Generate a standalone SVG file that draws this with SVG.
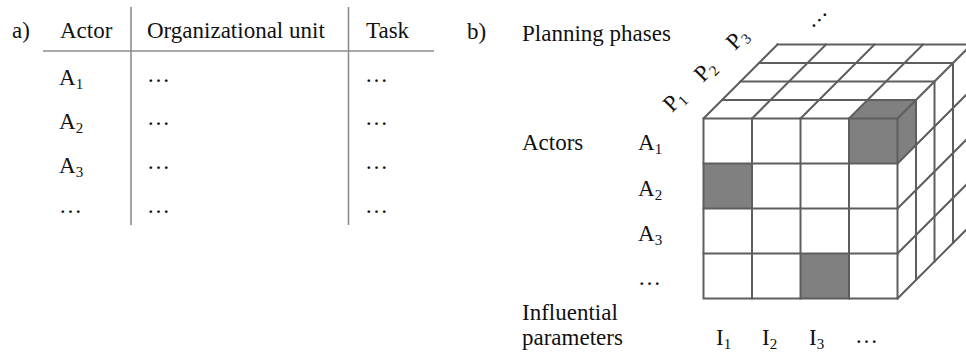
<svg xmlns="http://www.w3.org/2000/svg" width="966" height="354" viewBox="0 0 966 354">
<style>
text{font-family:"Liberation Serif","Times New Roman",serif;font-size:23px;fill:#111}
.sub{font-size:15px}
.tl{stroke:#8c8c8c;stroke-width:1.6;fill:none}
.cl{stroke:#5e5e5e;stroke-width:2;fill:none;stroke-linecap:square}
.g{fill:#808080;stroke:none}
</style>
<rect x="0" y="0" width="966" height="354" fill="#fff"/>
<g id="table">
<line class="tl" x1="131" y1="7" x2="131" y2="225"/>
<line class="tl" x1="348.5" y1="7" x2="348.5" y2="225"/>
<line class="tl" x1="43" y1="51" x2="434" y2="51"/>
<text x="12" y="38">a)</text>
<text x="60" y="38">Actor</text>
<text x="147" y="38">Organizational unit</text>
<text x="366" y="38">Task</text>
<text x="59" y="85">A<tspan class="sub" dy="4">1</tspan></text>
<text x="59" y="129">A<tspan class="sub" dy="4">2</tspan></text>
<text x="59" y="173">A<tspan class="sub" dy="4">3</tspan></text>
<text x="59" y="213">…</text>
<text x="147" y="82">…</text>
<text x="147" y="125">…</text>
<text x="147" y="169">…</text>
<text x="147" y="213">…</text>
<text x="365" y="82">…</text>
<text x="365" y="125">…</text>
<text x="365" y="169">…</text>
<text x="365" y="213">…</text>
</g>
<g id="labels-b">
<text x="467" y="39">b)</text>
<text x="522" y="41">Planning phases</text>
<text x="522" y="150">Actors</text>
<text x="522" y="320">Influential</text>
<text x="522" y="345">parameters</text>
<text x="638" y="150">A<tspan class="sub" dy="4">1</tspan></text>
<text x="638" y="196">A<tspan class="sub" dy="4">2</tspan></text>
<text x="638" y="241">A<tspan class="sub" dy="4">3</tspan></text>
<text x="638" y="285">…</text>
<text x="716" y="345">I<tspan class="sub" dy="4">1</tspan></text>
<text x="762" y="345">I<tspan class="sub" dy="4">2</tspan></text>
<text x="809" y="345">I<tspan class="sub" dy="4">3</tspan></text>
<text x="855" y="343">…</text>
<text transform="translate(672,113) rotate(-45)">P<tspan class="sub" dy="4">1</tspan></text>
<text transform="translate(703,83) rotate(-45)">P<tspan class="sub" dy="4">2</tspan></text>
<text transform="translate(735,51) rotate(-45)">P<tspan class="sub" dy="4">3</tspan></text>
<text transform="translate(812,29) rotate(-45)">…</text>
</g>
<g id="cube">
<rect x="703.5" y="118.5" width="194" height="180" fill="#fff"/>
<rect class="g" x="703.5" y="163.5" width="48.5" height="45"/>
<rect class="g" x="800.5" y="253.5" width="48.5" height="45"/>
<rect class="g" x="849" y="118.5" width="48.5" height="45"/>
<polygon class="g" points="849,118.5 897.5,118.5 916,100 867.5,100"/>
<polygon class="g" points="897.5,118.5 916,100 916,145 897.5,163.5"/>
<rect class="cl" x="703.5" y="118.5" width="194" height="180"/>
<path class="cl" d="M752,118.5V298.5M800.5,118.5V298.5M849,118.5V298.5M703.5,163.5H897.5M703.5,208.5H897.5M703.5,253.5H897.5"/>
<path class="cl" d="M722,100H916M740.5,81.5H934.5M759,63H953M777.5,44.5H971.5"/>
<path class="cl" d="M703.5,118.5L777.5,44.5M752,118.5L826,44.5M800.5,118.5L874.5,44.5M849,118.5L923,44.5M897.5,118.5L971.5,44.5"/>
<path class="cl" d="M897.5,163.5L971.5,89.5M897.5,208.5L971.5,134.5M897.5,253.5L971.5,179.5M897.5,298.5L971.5,224.5"/>
<path class="cl" d="M916,100V280M934.5,81.5V261.5M953,63V243"/>
</g>
</svg>
